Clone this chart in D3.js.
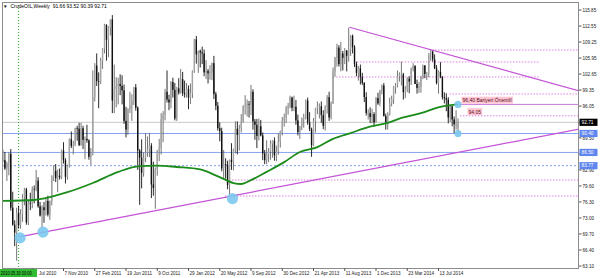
<!DOCTYPE html>
<html><head><meta charset="utf-8">
<script src="https://cdn.jsdelivr.net/npm/d3@7"></script>
<style>html,body{margin:0;padding:0;background:#fff;}svg{display:block;}</style>
</head><body><svg id="c" width="600" height="278"></svg>
<script>
// ---- DATA (weekly CrudeOIL, Apr 2010 - Sep 2014) ----
const openP = [84.6,84.9,83.2,84.3,86.2,75.1,71.6,70.0,74.0,71.5,
73.8,77.2,78.9,72.1,76.1,76.0,79.0,78.9,80.7,75.4,
73.5,75.2,74.6,76.5,73.7,76.5,81.6,82.7,81.2,81.7,
81.4,86.9,84.9,81.5,83.8,89.2,87.8,88.0,91.5,91.4,
88.0,91.5,89.1,89.3,89.0,85.6,86.2,97.9,104.4,101.2,
101.1,105.4,107.9,112.8,109.7,112.3,113.9,97.2,99.6,100.1,
100.6,100.2,99.3,93.0,91.2,95.4,96.2,97.2,99.9,95.7,
86.9,85.4,82.3,85.4,86.5,87.2,87.9,79.9,79.2,83.0,
86.8,87.4,93.3,94.3,99.0,97.4,96.8,101.0,99.4,93.5,
99.7,98.8,101.6,98.7,98.5,99.6,97.8,98.7,103.2,109.8,
106.7,107.4,107.1,106.9,103.0,103.3,102.8,103.0,104.9,98.5,
96.1,91.5,90.9,83.2,84.1,84.0,79.8,85.0,84.5,87.1,
91.4,90.1,91.4,92.9,96.0,96.2,96.5,96.4,99.0,92.9,
92.2,89.9,91.9,90.0,86.3,84.9,86.1,86.7,88.3,88.9,
85.9,86.7,88.7,90.8,93.1,93.6,95.6,95.9,97.8,95.7,
95.9,93.1,90.7,91.9,93.5,93.7,97.2,92.7,91.3,88.0,
93.0,95.6,96.0,96.0,94.2,92.0,96.0,97.9,93.7,96.6,
103.2,106.0,108.1,104.7,106.9,106.0,107.5,106.4,107.7,110.5,
108.2,104.7,102.9,103.8,102.0,100.8,97.9,94.6,94.6,93.8,
94.4,92.7,97.7,96.6,99.3,100.3,94.0,92.7,94.4,96.6,
97.5,99.9,100.3,102.2,102.6,102.6,98.9,99.5,101.7,101.1,
103.7,104.3,100.6,99.8,100.0,102.0,104.4,102.7,102.7,106.9,
107.3,105.7,103.8,100.8,103.1,102.1,97.9,97.7,97.4,93.7,
96.0,93.3,92.3,91.66];
const highP = [87.1,86.6,84.6,86.5,87.2,78.4,72.5,75.1,75.5,74.8,
77.9,79.2,79.2,76.5,78.2,79.5,79.7,82.9,81.4,76.3,
75.6,76.3,77.0,77.6,76.6,81.8,83.9,84.1,83.0,83.2,
87.1,88.6,85.3,84.0,89.4,90.8,88.9,91.6,92.0,92.6,
92.6,92.0,89.8,92.2,89.2,87.4,103.4,104.9,106.9,103.0,
106.0,108.0,113.0,112.9,112.5,113.9,114.8,104.6,102.0,101.9,
102.6,102.4,100.5,95.9,95.6,99.0,98.5,100.0,100.6,96.0,
87.2,89.2,86.5,90.5,89.8,90.5,88.4,84.6,83.4,87.0,
89.3,94.6,95.0,99.6,103.4,98.4,101.2,101.9,100.8,100.0,
101.8,103.7,103.1,101.3,100.8,100.3,100.7,103.4,109.9,110.5,
107.5,107.7,108.3,107.7,105.5,103.7,104.5,105.0,106.4,99.0,
96.9,92.7,91.6,87.0,85.3,84.8,85.0,88.4,87.3,92.9,
92.9,92.2,94.4,96.2,98.3,97.4,97.1,100.4,99.5,93.4,
93.4,93.5,93.2,90.6,87.0,89.0,87.4,89.0,89.0,89.6,
87.9,90.5,91.0,93.8,94.5,96.1,96.7,98.2,98.0,98.2,
97.3,94.3,92.0,93.7,94.5,97.4,97.8,94.8,91.6,93.6,
95.7,97.0,96.6,97.0,95.2,96.2,98.3,99.0,97.0,104.0,
106.2,108.9,108.6,109.3,107.4,108.0,107.6,112.2,110.7,110.8,
108.6,105.2,104.3,104.6,102.9,101.0,98.9,95.4,95.8,95.5,
94.8,97.9,98.8,99.4,100.5,100.8,94.5,94.8,97.8,98.2,
100.2,100.8,103.4,103.0,105.2,102.9,100.2,102.0,102.2,104.0,
104.9,104.5,101.5,101.0,102.3,104.6,104.5,103.1,107.0,107.7,
107.5,106.7,104.5,103.4,105.1,102.2,98.9,98.7,97.9,96.1,
96.1,93.9,95.2,93.52];
const lowP = [84.5,82.9,80.6,81.8,74.5,71.4,67.2,64.2,70.8,70.8,
72.2,75.6,71.6,71.5,74.6,75.0,76.0,78.5,75.1,73.3,
70.8,72.0,73.5,73.3,72.6,75.6,80.6,80.4,78.3,80.9,
81.0,84.2,80.1,80.9,83.4,87.4,86.1,87.8,88.9,87.8,
87.9,87.2,85.1,88.5,85.0,83.9,85.9,97.0,100.2,95.6,
100.6,103.7,106.9,105.4,106.1,110.6,94.6,94.6,95.8,96.4,
98.3,96.4,92.4,89.6,90.1,94.6,93.0,96.3,95.1,82.9,
75.7,79.1,81.5,84.5,85.6,85.5,77.1,77.6,74.9,81.7,
84.7,86.1,88.6,93.1,96.8,95.2,95.6,97.8,93.1,93.0,
98.4,98.6,98.1,97.8,97.8,95.4,96.5,97.7,102.9,104.8,
102.9,104.0,104.7,102.2,101.6,100.7,101.5,101.4,97.5,95.2,
91.0,88.8,82.6,81.2,81.1,78.9,77.3,82.9,82.8,86.3,
86.1,86.9,90.6,92.6,94.3,93.9,93.7,94.2,91.2,89.1,
87.4,89.0,89.8,84.9,84.1,84.1,84.5,85.0,85.4,84.8,
84.7,86.0,87.5,90.0,91.8,92.6,94.3,95.6,95.0,95.0,
92.2,90.0,89.3,91.1,91.6,93.3,92.2,90.9,85.6,87.8,
90.6,94.4,93.5,92.6,91.3,91.0,94.5,93.0,93.3,96.5,
102.1,104.2,104.2,103.2,103.4,104.7,103.2,105.2,106.4,106.9,
104.1,102.2,101.3,100.5,100.4,96.9,94.1,93.3,92.6,92.5,
91.8,92.6,96.3,96.0,98.5,93.9,91.2,91.2,94.1,96.0,
96.5,98.6,99.9,101.1,100.3,97.4,97.7,98.9,98.7,100.4,
103.2,100.6,98.6,98.8,98.8,101.6,101.8,101.4,102.0,105.4,
105.2,103.7,100.5,98.6,101.8,97.4,96.6,95.0,92.5,92.8,
91.9,90.4,91.2,90.39];
const closeP = [84.9,83.2,84.3,86.2,75.1,71.6,70.0,74.0,71.5,73.8,
77.2,78.9,72.1,76.1,76.0,79.0,78.9,80.7,75.4,73.5,
75.2,74.6,76.5,73.7,76.5,81.6,82.7,81.2,81.7,81.4,
86.9,84.9,81.5,83.8,89.2,87.8,88.0,91.5,91.4,88.0,
91.5,89.1,89.3,89.0,85.6,86.2,97.9,104.4,101.2,101.1,
105.4,107.9,112.8,109.7,112.3,113.9,97.2,99.6,100.1,100.6,
100.2,99.3,93.0,91.2,95.4,96.2,97.2,99.9,95.7,86.9,
85.4,82.3,85.4,86.5,87.2,87.9,79.9,79.2,83.0,86.8,
87.4,93.3,94.3,99.0,97.4,96.8,101.0,99.4,93.5,99.7,
98.8,101.6,98.7,98.5,99.6,97.8,98.7,103.2,109.8,106.7,
107.4,107.1,106.9,103.0,103.3,102.8,103.0,104.9,98.5,96.1,
91.5,90.9,83.2,84.1,84.0,79.8,85.0,84.5,87.1,91.4,
90.1,91.4,92.9,96.0,96.2,96.5,96.4,99.0,92.9,92.2,
89.9,91.9,90.0,86.3,84.9,86.1,86.7,88.3,88.9,85.9,
86.7,88.7,90.8,93.1,93.6,95.6,95.9,97.8,95.7,95.9,
93.1,90.7,91.9,93.5,93.7,97.2,92.7,91.3,88.0,93.0,
95.6,96.0,96.0,94.2,92.0,96.0,97.9,93.7,96.6,103.2,
106.0,108.1,104.7,106.9,106.0,107.5,106.4,107.7,110.5,108.2,
104.7,102.9,103.8,102.0,100.8,97.9,94.6,94.6,93.8,94.4,
92.7,97.7,96.6,99.3,100.3,94.0,92.7,94.4,96.6,97.5,
99.9,100.3,102.2,102.6,102.6,98.9,99.5,101.7,101.1,103.7,
104.3,100.6,99.8,100.0,102.0,104.4,102.7,102.7,106.9,107.3,
105.7,103.8,100.8,103.1,102.1,97.9,97.7,97.4,93.7,96.0,
93.3,92.3,92.4,92.71];

// 200-period moving average at these bar indices
const maIdx = [0,16,24,33,46,59,70,79,89,101,111,118,122,127,135,144,152,161,169,178,187,197,204,214,224,233];
const maVal = [76.5,76.7,77.3,78.3,80.2,82.5,83.7,83.8,83.5,83.0,81.4,80.2,80.0,80.8,82.5,84.5,86.6,87.6,89.3,90.5,91.7,92.6,93.6,94.6,95.9,96.4];

// time axis (the first label is partly hidden behind the green date box in the reference)
const xTickIdx = [15,31,47,63,79,95,111,127,143,159,175,191,207,223];
const xTickLabels = ["Jul 2010","7 Nov 2010","27 Feb 2011","19 Jun 2011","9 Oct 2011","29 Jan 2012","20 May 2012","9 Sep 2012","30 Dec 2012","21 Apr 2013","11 Aug 2013","1 Dec 2013","23 Mar 2014","13 Jul 2014"];
const vlineIdx = 8;
const vlineLabel = "2010.05.30 00:00";

// price axis
const yTickVals = [63.10,66.40,69.70,73.00,76.30,79.60,82.90,86.20,89.50,92.75,96.05,99.35,102.65,105.95,109.25,112.55,115.85];
const yTickLabels = ["63.10","66.40","69.70","73.00","76.30","79.60","82.90","86.20","89.50","92.75","96.05","99.35","102.65","105.95","109.25","112.55","115.85"];

// drawn objects
const trendLow = [[8.3,69.1],[295,91.3]];
const trendHigh = [[177.4,112.3],[295,99.2]];
const dotLevels = [107.6,105.14,102.05,98.54,94.05,80.82,77.52];
const dotFrom = [219.7,181.2,169,228.6,234,115.7,113.7];
const dotTo = [295,275,275,295,295,295,295];
const blueLevels = [90.40,86.50];
const blueDotLevel = 83.77;
const bidLevel = 92.71;
const barrierLevel = 96.40;
const barrierFrom = 232;
const circleIdx = [8.8,20.5,117.5,233,233];
const circleVal = [68.9,70.1,77.0,96.4,90.4];
const title = "CrudeOIL,Weekly  91.66 93.52 90.39 92.71";
const note1 = "96,40 Bariyeri Önemli!";
const note2 = "94,05";

// ---- DRAW ----
const svg = d3.select("#c");
const P = {l:2,t:2,r:579,b:268};
const x = d3.scaleLinear().domain([31,223]).range([63.5,438.5]);
const y = d3.scaleLinear().domain([63.10,115.85]).range([266,10]);
const FONT = "Liberation Sans, Arial, sans-serif";

svg.append("defs").append("clipPath").attr("id","pc")
  .append("rect").attr("x",P.l).attr("y",P.t).attr("width",P.r-P.l).attr("height",P.b-P.t);
const g = svg.append("g").attr("clip-path","url(#pc)");

// horizontal levels
g.append("line").attr("x1",P.l).attr("x2",P.r).attr("y1",y(bidLevel)).attr("y2",y(bidLevel))
  .attr("stroke","#c8c8c8").attr("stroke-width",1);
blueLevels.forEach(v=>g.append("line").attr("x1",P.l).attr("x2",P.r).attr("y1",y(v)).attr("y2",y(v))
  .attr("stroke","#86a2f0").attr("stroke-width",1));
g.append("line").attr("x1",P.l).attr("x2",P.r).attr("y1",y(blueDotLevel)).attr("y2",y(blueDotLevel))
  .attr("stroke","#7f9bf0").attr("stroke-width",1).attr("stroke-dasharray","2,2");
dotLevels.forEach((v,k)=>g.append("line").attr("x1",x(dotFrom[k])).attr("x2",Math.min(P.r,x(dotTo[k])))
  .attr("y1",y(v)).attr("y2",y(v)).attr("stroke","#dc80e0").attr("stroke-width",1).attr("stroke-dasharray","1.5,1.5"));
g.append("line").attr("x1",x(barrierFrom)).attr("x2",P.r).attr("y1",y(barrierLevel)).attr("y2",y(barrierLevel))
  .attr("stroke","#c57ad8").attr("stroke-width",1);

// vertical green dotted line
g.append("line").attr("x1",x(vlineIdx)).attr("x2",x(vlineIdx)).attr("y1",P.t).attr("y2",P.b)
  .attr("stroke","#22aa22").attr("stroke-width",1).attr("stroke-dasharray","1,2");

// candles
const bars = closeP.map((c,i)=>({i,o:openP[i],h:highP[i],l:lowP[i],c}));
g.append("g").selectAll("line").data(bars).join("line")
  .attr("x1",d=>x(d.i)).attr("x2",d=>x(d.i))
  .attr("y1",d=>y(Math.max(d.h,d.o,d.c))).attr("y2",d=>y(Math.min(d.l,d.o,d.c)))
  .attr("stroke",d=>d.c>=d.o?"#666":"#111").attr("stroke-width",0.9);
g.append("g").selectAll("rect").data(bars).join("rect")
  .attr("x",d=>x(d.i)-0.7).attr("width",1.4)
  .attr("y",d=>y(Math.max(d.o,d.c)))
  .attr("height",d=>Math.max(0.7,Math.abs(y(d.o)-y(d.c))))
  .attr("fill",d=>d.c>=d.o?"#a4a4a4":"#111");

// moving average
const maPts = maIdx.map((v,k)=>[v,maVal[k]]);
g.append("path").datum(maPts)
  .attr("d",d3.line().x(d=>x(d[0])).y(d=>y(d[1])).curve(d3.curveMonotoneX))
  .attr("fill","none").attr("stroke","#1b8c1b").attr("stroke-width",1.8);

// trend lines
[trendLow,trendHigh].forEach(t=>g.append("line")
  .attr("x1",x(t[0][0])).attr("y1",y(t[0][1])).attr("x2",x(t[1][0])).attr("y2",y(t[1][1]))
  .attr("stroke","#c452d6").attr("stroke-width",1.2));

// circles
circleIdx.forEach((ci,k)=>g.append("circle").attr("cx",x(ci)).attr("cy",y(circleVal[k]))
  .attr("r",k<3?5.6:3.6).attr("fill","#7cc8ee").attr("fill-opacity",0.9));

// text notes
function note(txt,px,val,off){
  const t = g.append("text").attr("x",px+1).attr("y",y(val)+off).attr("font-family",FONT)
    .attr("font-size",5).attr("fill","#5a1020").text(txt);
  const bb = t.node().getBBox();
  g.insert("rect","text").attr("x",bb.x-1).attr("y",bb.y-0.5).attr("width",bb.width+2).attr("height",bb.height+1)
    .attr("fill","#ffc6d4");
  t.raise();
}
note(note1, x(233)+3.5, barrierLevel, -2.2);
note(note2, x(233)+9.5, 94.05, -2.2);

// frame
svg.append("rect").attr("x",P.l+0.5).attr("y",P.t+0.5).attr("width",P.r-P.l-1).attr("height",P.b-P.t)
  .attr("fill","none").attr("stroke","#8c8c8c").attr("stroke-width",1);

// title
svg.append("text").attr("x",3).attr("y",8.2).attr("font-family",FONT).attr("font-size",4.6).attr("fill","#000").text("▼");
svg.append("text").attr("x",10.5).attr("y",8.2).attr("font-family",FONT).attr("font-size",5).attr("fill","#000")
  .attr("xml:space","preserve").style("white-space","pre").text(title);

// y axis
const ya = svg.append("g");
yTickVals.forEach((v,k)=>{
  ya.append("line").attr("x1",P.r).attr("x2",P.r+2.5).attr("y1",y(v)).attr("y2",y(v)).attr("stroke","#555");
  ya.append("text").attr("x",P.r+3.5).attr("y",y(v)+1.7).attr("font-family",FONT).attr("font-size",4.6)
    .attr("fill","#222").text(yTickLabels[k]);
});
function tag(val,bg){
  ya.append("rect").attr("x",P.r+0.5).attr("y",y(val)-3.6).attr("width",18).attr("height",7.2).attr("fill",bg);
  ya.append("text").attr("x",P.r+2.5).attr("y",y(val)+1.8).attr("font-family",FONT).attr("font-size",4.8)
    .attr("fill","#fff").text(val.toFixed(2));
}
tag(blueDotLevel,"#5f86ee");
blueLevels.forEach(v=>tag(v,"#5f86ee"));
tag(bidLevel,"#000");

// x axis
const GREEN_BOX_W = 37;
const xa = svg.append("g");
xTickIdx.forEach((ix,k)=>{
  xa.append("line").attr("x1",x(ix)).attr("x2",x(ix)).attr("y1",P.b).attr("y2",P.b+3).attr("stroke","#555");
  xa.append("text").attr("x",Math.max(x(ix)+1,GREEN_BOX_W+2)).attr("y",P.b+7).attr("font-family",FONT).attr("font-size",4.6)
    .attr("fill","#222").text(xTickLabels[k]);
});
xa.append("rect").attr("x",0).attr("y",P.b+1).attr("width",GREEN_BOX_W).attr("height",8).attr("fill","#33bb33");
xa.append("text").attr("x",0.8).attr("y",P.b+7).attr("font-family",FONT).attr("font-size",4.6)
  .attr("textLength",31).attr("lengthAdjust","spacingAndGlyphs")
  .attr("fill","#000").text(vlineLabel);
</script></body></html>
